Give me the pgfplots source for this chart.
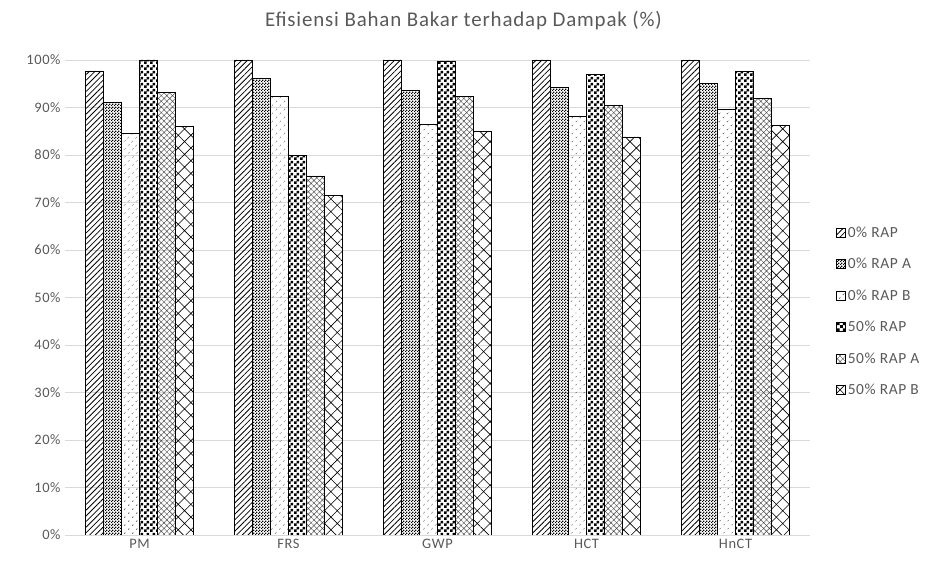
\documentclass[border=0pt]{standalone}
\usepackage{fontspec}
\setmainfont{Carlito}[LetterSpace=4]
\usepackage{pgfplots}
\pgfplotsset{compat=1.18}
\usetikzlibrary{patterns,patterns.meta}
\pgfdeclarepatternformonly{smallcheck}{\pgfqpoint{0pt}{0pt}}{\pgfqpoint{3bp}{3bp}}{\pgfqpoint{3bp}{3bp}}{%
  \pgfpathrectangle{\pgfqpoint{0pt}{0pt}}{\pgfqpoint{1.5bp}{1.5bp}}%
  \pgfpathrectangle{\pgfqpoint{1.5bp}{1.5bp}}{\pgfqpoint{1.5bp}{1.5bp}}%
  \pgfusepath{fill}}
\pgfdeclarepatternformonly{bigcheck}{\pgfqpoint{0pt}{0pt}}{\pgfqpoint{6bp}{6bp}}{\pgfqpoint{6bp}{6bp}}{%
  \pgfpathrectangle{\pgfqpoint{0pt}{0pt}}{\pgfqpoint{3bp}{3bp}}%
  \pgfpathrectangle{\pgfqpoint{3bp}{3bp}}{\pgfqpoint{3bp}{3bp}}%
  \pgfusepath{fill}}
\definecolor{gridgray}{HTML}{D9D9D9}
\definecolor{txtgray}{HTML}{595959}
\begin{document}
\begin{tikzpicture}
\path[use as bounding box] (0,0) rectangle (927bp,568bp);
\node[txtgray, font=\fontsize{21}{24}\selectfont] at (463.5bp,547bp) {Efisiensi Bahan Bakar terhadap Dampak (\%)};
\begin{axis}[
  at={(65bp,33bp)}, anchor=south west,
  scale only axis, width=745bp, height=475bp,
  xmin=-0.5, xmax=4.5, ymin=0, ymax=100,
  ytick={0,10,...,100},
  yticklabel={\pgfmathprintnumber{\tick}\%},
  xtick={0,1,2,3,4},
  xticklabels={PM,FRS,GWP,HCT,HnCT},
  /pgf/number format/assume math mode=true,
  ymajorgrids, grid style={gridgray, line width=0.75bp},
  axis x line*=bottom, axis y line*=left,
  x axis line style={gridgray, line width=0.75bp, -},
  y axis line style={draw=none},
  major tick length=0pt,
  tick label style={txtgray, font=\fontsize{14.5}{16}\selectfont},
  yticklabel style={xshift=-1bp},
  xticklabel style={yshift=-1bp},
  ybar=0pt, bar width=0.121,
  every axis plot/.append style={draw=black, line width=0.75bp},
  area legend,
  legend style={at={(1.035,0.658)}, anchor=north west, draw=none, fill=none,
    font=\fontsize{15.5}{17}\selectfont, text=txtgray, row sep=15.5bp,
    legend cell align=left, inner xsep=0pt},
  legend image code/.code={\draw[#1, line width=0.5bp] (0bp,-4.5bp) rectangle (9bp,4.5bp);},
]
\addplot[pattern={Lines[angle=45,distance=4bp,line width=0.8bp]}] coordinates {(0,97.7) (1,100) (2,100) (3,100) (4,100)};
\addplot[pattern=smallcheck] coordinates {(0,91.1) (1,96.1) (2,93.5) (3,94.2) (4,95.0)};
\addplot[pattern={Dots[angle=45,distance=6bp,radius=0.75bp]}] coordinates {(0,84.6) (1,92.3) (2,86.5) (3,88.1) (4,89.6)};
\addplot[pattern=bigcheck] coordinates {(0,100) (1,79.9) (2,99.8) (3,97.0) (4,97.7)};
\addplot[pattern={Hatch[angle=45,distance=4bp,line width=0.45bp]}, pattern color=black!70] coordinates {(0,93.1) (1,75.6) (2,92.3) (3,90.4) (4,91.9)};
\addplot[pattern={Hatch[angle=45,distance=9bp,line width=0.6bp]}] coordinates {(0,86.1) (1,71.4) (2,85.0) (3,83.8) (4,86.3)};
\legend{0\% RAP, 0\% RAP A, 0\% RAP B, 50\% RAP, 50\% RAP A, 50\% RAP B}
\end{axis}
\end{tikzpicture}
\end{document}
